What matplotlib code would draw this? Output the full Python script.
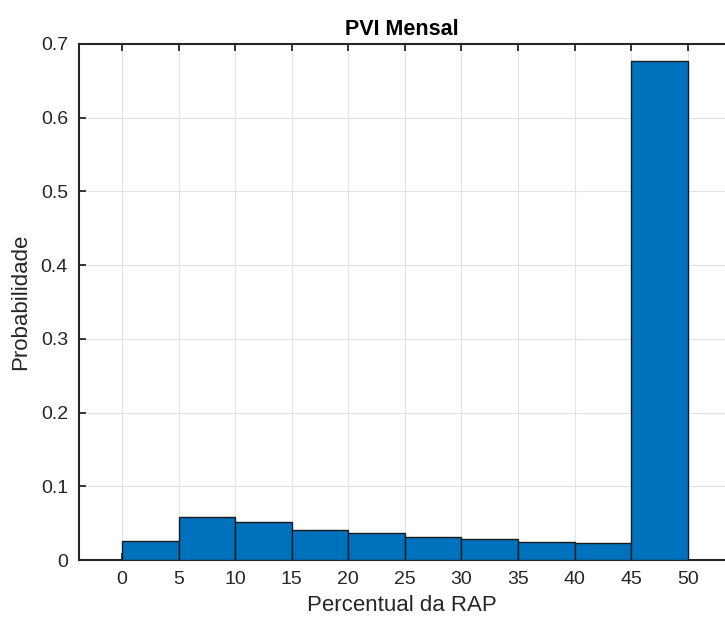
import numpy as np
from matplotlib import pyplot as plt

plt.rcParams['font.family'] = ['Liberation Sans', 'DejaVu Sans']

bin_edges = [0, 5, 10, 15, 20, 25, 30, 35, 40, 45, 50]
probabilidade = [0.026, 0.058, 0.052, 0.0405, 0.036, 0.031, 0.028, 0.024, 0.023, 0.677]

fig = plt.figure(figsize=(7.25, 6.19), dpi=100)
ax = fig.add_axes([0.109, 0.0953, 0.891, 0.834])

ax.hist(bin_edges[:-1], bins=bin_edges, weights=probabilidade,
        color='#0072BD', edgecolor='#1a1a1a', linewidth=1.0, zorder=3)

ax.set_xlim(-3.8, 53.3)
ax.set_ylim(0, 0.7)
ax.set_xticks(bin_edges)
ax.set_yticks(np.arange(0, 0.71, 0.1))
ax.set_yticklabels(['0', '0.1', '0.2', '0.3', '0.4', '0.5', '0.6', '0.7'])

ax.grid(True, color='#e3e3e3', linewidth=0.8, zorder=0)
ax.set_axisbelow(True)
ax.spines['right'].set_visible(False)
for s in ['left', 'top', 'bottom']:
    ax.spines[s].set_color('#262626')
    ax.spines[s].set_linewidth(1.5)

ax.tick_params(direction='in', length=5, width=1.3, colors='#262626',
               labelsize=14, top=True, pad=8)
ax.tick_params(axis='x', pad=8)

ax.set_xlabel('Percentual da RAP', fontsize=16, color='#262626', labelpad=5)
ax.set_ylabel('Probabilidade', fontsize=16, color='#262626', labelpad=7)
ax.set_title('PVI Mensal', fontsize=15.5, fontweight='bold', pad=6)

fig.savefig('out.png', dpi=100)
